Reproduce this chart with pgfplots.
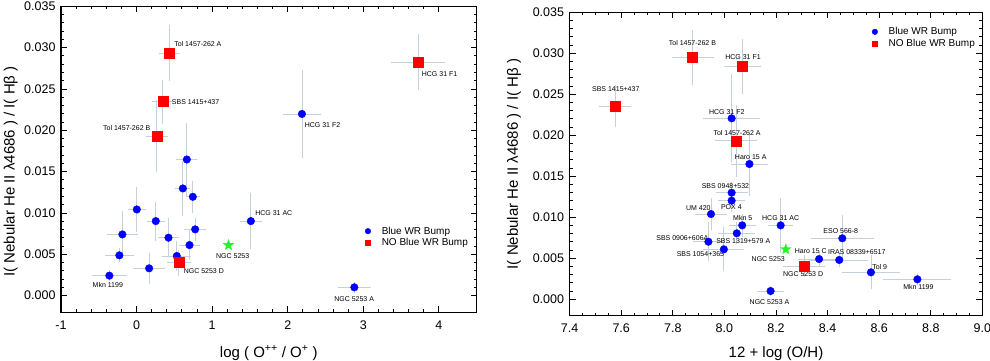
\documentclass[border=0pt]{standalone}
\usepackage{fontspec}
\setmainfont{Liberation Sans}
\usepackage{pgfplots}
\usepackage{pgfplotstable}
\pgfplotsset{compat=1.18}

\definecolor{wrblue}{RGB}{0,0,255}
\definecolor{wrred}{RGB}{255,0,0}
\definecolor{wrgreen}{RGB}{30,250,30}
\definecolor{errcol}{RGB}{196,208,218}

% filled five-point star
\pgfdeclareplotmark{fstar}{%
  \pgfpathmoveto{\pgfqpointpolar{90}{\pgfplotmarksize}}%
  \pgfpathlineto{\pgfqpointpolar{126}{0.42\pgfplotmarksize}}%
  \pgfpathlineto{\pgfqpointpolar{162}{\pgfplotmarksize}}%
  \pgfpathlineto{\pgfqpointpolar{198}{0.42\pgfplotmarksize}}%
  \pgfpathlineto{\pgfqpointpolar{234}{\pgfplotmarksize}}%
  \pgfpathlineto{\pgfqpointpolar{270}{0.42\pgfplotmarksize}}%
  \pgfpathlineto{\pgfqpointpolar{306}{\pgfplotmarksize}}%
  \pgfpathlineto{\pgfqpointpolar{342}{0.42\pgfplotmarksize}}%
  \pgfpathlineto{\pgfqpointpolar{18}{\pgfplotmarksize}}%
  \pgfpathlineto{\pgfqpointpolar{54}{0.42\pgfplotmarksize}}%
  \pgfpathclose
  \pgfusepathqfill
}

% left panel: log(O++/O+)
\pgfplotstableread{
x y ex ey
0.665 0.01647 0.10 0.0040
2.188 0.02198 0.21 0.0050
0.612 0.01297 0.06 0.0030
0.744 0.01196 0.053 0.0016
0.003 0.01043 0.08 0.0024
0.254 0.00902 0.08 0.0020
1.512 0.00902 0.11 0.0030
-0.188 0.00741 0.165 0.0025
0.422 0.00701 0.10 0.0020
0.775 0.00802 0.11 0.0010
0.700 0.00612 0.10 0.0015
-0.228 0.00488 0.15 0.0005
0.532 0.00480 0.15 0.0014
0.166 0.00331 0.17 0.0015
-0.360 0.00242 0.19 0.0003
2.881 0.00101 0.18 0.0003
}\leftblue
\pgfplotstableread{
x y ex ey
0.434 0.02935 0.10 0.0030
0.347 0.02348 0.10 0.0023
0.267 0.01929 0.105 0.0040
3.724 0.02826 0.32 0.0030
0.558 0.00399 0.12 0.0012
}\leftred

% right panel: 12 + log(O/H)
\pgfplotstableread{
x y ex ey
8.028 0.02207 0.10 0.0050
8.097 0.01650 0.06 0.0035
8.028 0.01300 0.05 0.0010
8.028 0.01203 0.04 0.0010
7.948 0.01040 0.05 0.0016
8.069 0.00902 0.04 0.0010
8.048 0.00805 0.06 0.0010
7.938 0.00702 0.05 0.0020
7.998 0.00610 0.068 0.0023
8.218 0.00902 0.037 0.0030
8.179 0.00101 0.04 0.0003
8.457 0.00744 0.11 0.0025
8.367 0.00491 0.07 0.0005
8.445 0.00480 0.10 0.0005
8.568 0.00329 0.10 0.0017
8.748 0.00244 0.12 0.0003
}\rightblue
\pgfplotstableread{
x y ex ey
7.577 0.02357 0.05 0.0022
7.877 0.02951 0.07 0.0030
8.069 0.02837 0.06 0.0030
8.046 0.01934 0.07 0.0040
8.309 0.00406 0.07 0.0010
}\rightred

\pgfplotsset{
  wrpanel/.style={
    scale only axis,
    clip=false,
    axis line style={line width=1.2pt},
    tick style={black, line width=0.9pt},
    major tick length=6pt, minor tick length=3pt,
    tick align=inside,
    ymin=-0.002, ymax=0.035,
    ytick={0,0.005,0.010,0.015,0.020,0.025,0.030,0.035},
    minor y tick num=4,
    scaled y ticks=false, scaled x ticks=false,
    /pgf/number format/assume math mode=true,
    tick label style={font=\fontsize{12.5}{14}\selectfont},
    yticklabel style={xshift=-2pt,
      /pgf/number format/fixed,
      /pgf/number format/fixed zerofill,
      /pgf/number format/precision=3},
    xticklabel style={anchor=base, yshift=-17pt},
    label style={font=\fontsize{15}{18}\selectfont},
    ylabel={I( Nebular He II λ4686 ) / I( Hβ )},
    legend cell align=left,
    legend style={draw=none, fill=none, font=\fontsize{10}{12}\selectfont,
      row sep=-1pt, column sep=9pt, anchor=north west},
  },
  errs/.style={forget plot, only marks, mark=none,
    error bars/.cd, x dir=both, x explicit, y dir=both, y explicit,
    error bar style={draw=errcol, line width=0.8pt},
    error mark options={draw=errcol, mark size=3pt, line width=0.8pt}},
  bluepts/.style={only marks, mark=*, mark size=3.8pt, color=wrblue,
    legend image code/.code={\draw[##1, mark size=2.8pt, mark repeat=2, mark phase=2]
      plot coordinates {(0cm,0cm) (0.3cm,0cm) (0.6cm,0cm)};}},
  redpts/.style={only marks, mark=square*, mark size=5pt, color=wrred,
    legend image code/.code={\draw[##1, mark size=2.4pt, mark repeat=2, mark phase=2]
      plot coordinates {(0cm,0cm) (0.3cm,0cm) (0.6cm,0cm)};}},
  greenpts/.style={forget plot, only marks, mark=fstar, mark size=6pt,
    color=wrgreen},
}
\tikzset{lab/.style={font=\fontsize{7}{8}\selectfont, inner sep=0pt}}

\begin{document}
\begin{tikzpicture}
\path[use as bounding box] (-61pt,-47.8pt) rectangle (929pt,312.2pt);

\begin{axis}[
  wrpanel,
  at={(0pt,0pt)},
  width=415.7pt, height=305.9pt,
  xmin=-1, xmax=4.5,
  xtick={-1,0,1,2,3,4},
  minor x tick num=4,
  xlabel={log ( O\textsuperscript{++} / O\textsuperscript{+} )},
  xlabel style={at={(axis description cs:0.5,0)}, anchor=base, yshift=-44.8pt},
  ylabel style={at={(axis description cs:-0.121,0.46)}, anchor=center},
  legend style={at={(axis description cs:0.724,0.293)}},
]
\addplot[errs] table[x=x, y=y, x error=ex, y error=ey] {\leftblue};
\addplot[errs] table[x=x, y=y, x error=ex, y error=ey] {\leftred};
\addplot[bluepts] table[x=x, y=y] {\leftblue};
\addlegendentry{Blue WR Bump}
\addplot[redpts] table[x=x, y=y] {\leftred};
\addlegendentry{NO Blue WR Bump}
\addplot[greenpts] coordinates {(1.216,0.00612)};

\node[lab] at (axis cs:0.811,0.03048) {Tol 1457-262 A};
\node[lab] at (axis cs:0.781,0.02339) {SBS 1415+437};
\node[lab] at (axis cs:-0.130,0.02034) {Tol 1457-262 B};
\node[lab] at (axis cs:4.009,0.02686) {HCG 31 F1};
\node[lab] at (axis cs:2.460,0.02058) {HCG 31 F2};
\node[lab] at (axis cs:1.815,0.01002) {HCG 31 AC};
\node[lab] at (axis cs:1.272,0.00479) {NGC 5253};
\node[lab] at (axis cs:0.890,0.00298) {NGC 5253 D};
\node[lab] at (axis cs:-0.381,0.00129) {Mkn 1199};
\node[lab] at (axis cs:2.878,-0.00036) {NGC 5253 A};
\end{axis}

\begin{axis}[
  wrpanel,
  at={(508.6pt,-3.5pt)},
  width=412.8pt, height=303.4pt,
  xmin=7.4, xmax=9.0,
  xtick={7.4,7.6,7.8,8.0,8.2,8.4,8.6,8.8,9.0},
  minor x tick num=3,
  xticklabel style={/pgf/number format/fixed,
    /pgf/number format/fixed zerofill,
    /pgf/number format/precision=1},
  xlabel={12 + log (O/H)},
  xlabel style={at={(axis description cs:0.5,0)}, anchor=base, yshift=-41.3pt},
  ylabel style={at={(axis description cs:-0.135,0.5)}, anchor=center},
  legend style={at={(axis description cs:0.725,0.964)}},
]
\addplot[errs] table[x=x, y=y, x error=ex, y error=ey] {\rightblue};
\addplot[errs] table[x=x, y=y, x error=ex, y error=ey] {\rightred};
\addplot[bluepts] table[x=x, y=y] {\rightblue};
\addlegendentry{Blue WR Bump}
\addplot[redpts] table[x=x, y=y] {\rightred};
\addlegendentry{NO Blue WR Bump}
\addplot[greenpts] coordinates {(8.238,0.0061)};

\node[lab] at (axis cs:7.579,0.02561) {SBS 1415+437};
\node[lab] at (axis cs:7.876,0.03122) {Tol 1457-262 B};
\node[lab] at (axis cs:8.072,0.02951) {HCG 31 F1};
\node[lab] at (axis cs:8.009,0.02288) {HCG 31 F2};
\node[lab] at (axis cs:8.049,0.02032) {Tol 1457-262 A};
\node[lab] at (axis cs:8.102,0.01732) {Haro 15 A};
\node[lab] at (axis cs:8.004,0.01382) {SBS 0948+532};
\node[lab] at (axis cs:8.027,0.01122) {POX 4};
\node[lab] at (axis cs:7.899,0.01110) {UM 420};
\node[lab] at (axis cs:8.071,0.00995) {Mkn 5};
\node[lab] at (axis cs:8.218,0.00988) {HCG 31 AC};
\node[lab] at (axis cs:7.837,0.00751) {SBS 0906+606A};
\node[lab] at (axis cs:8.073,0.00711) {SBS 1319+579 A};
\node[lab] at (axis cs:7.907,0.00552) {SBS 1054+365};
\node[lab] at (axis cs:8.170,0.00495) {NGC 5253};
\node[lab] at (axis cs:8.335,0.00585) {Haro 15 C};
\node[lab] at (axis cs:8.513,0.00580) {IRAS 08339+6517};
\node[lab] at (axis cs:8.305,0.00309) {NGC 5253 D};
\node[lab] at (axis cs:8.451,0.00837) {ESO 566-8};
\node[lab] at (axis cs:8.602,0.00390) {Tol 9};
\node[lab] at (axis cs:8.752,0.00154) {Mkn 1199};
\node[lab] at (axis cs:8.175,-0.00029) {NGC 5253 A};
\end{axis}
\end{tikzpicture}
\end{document}
